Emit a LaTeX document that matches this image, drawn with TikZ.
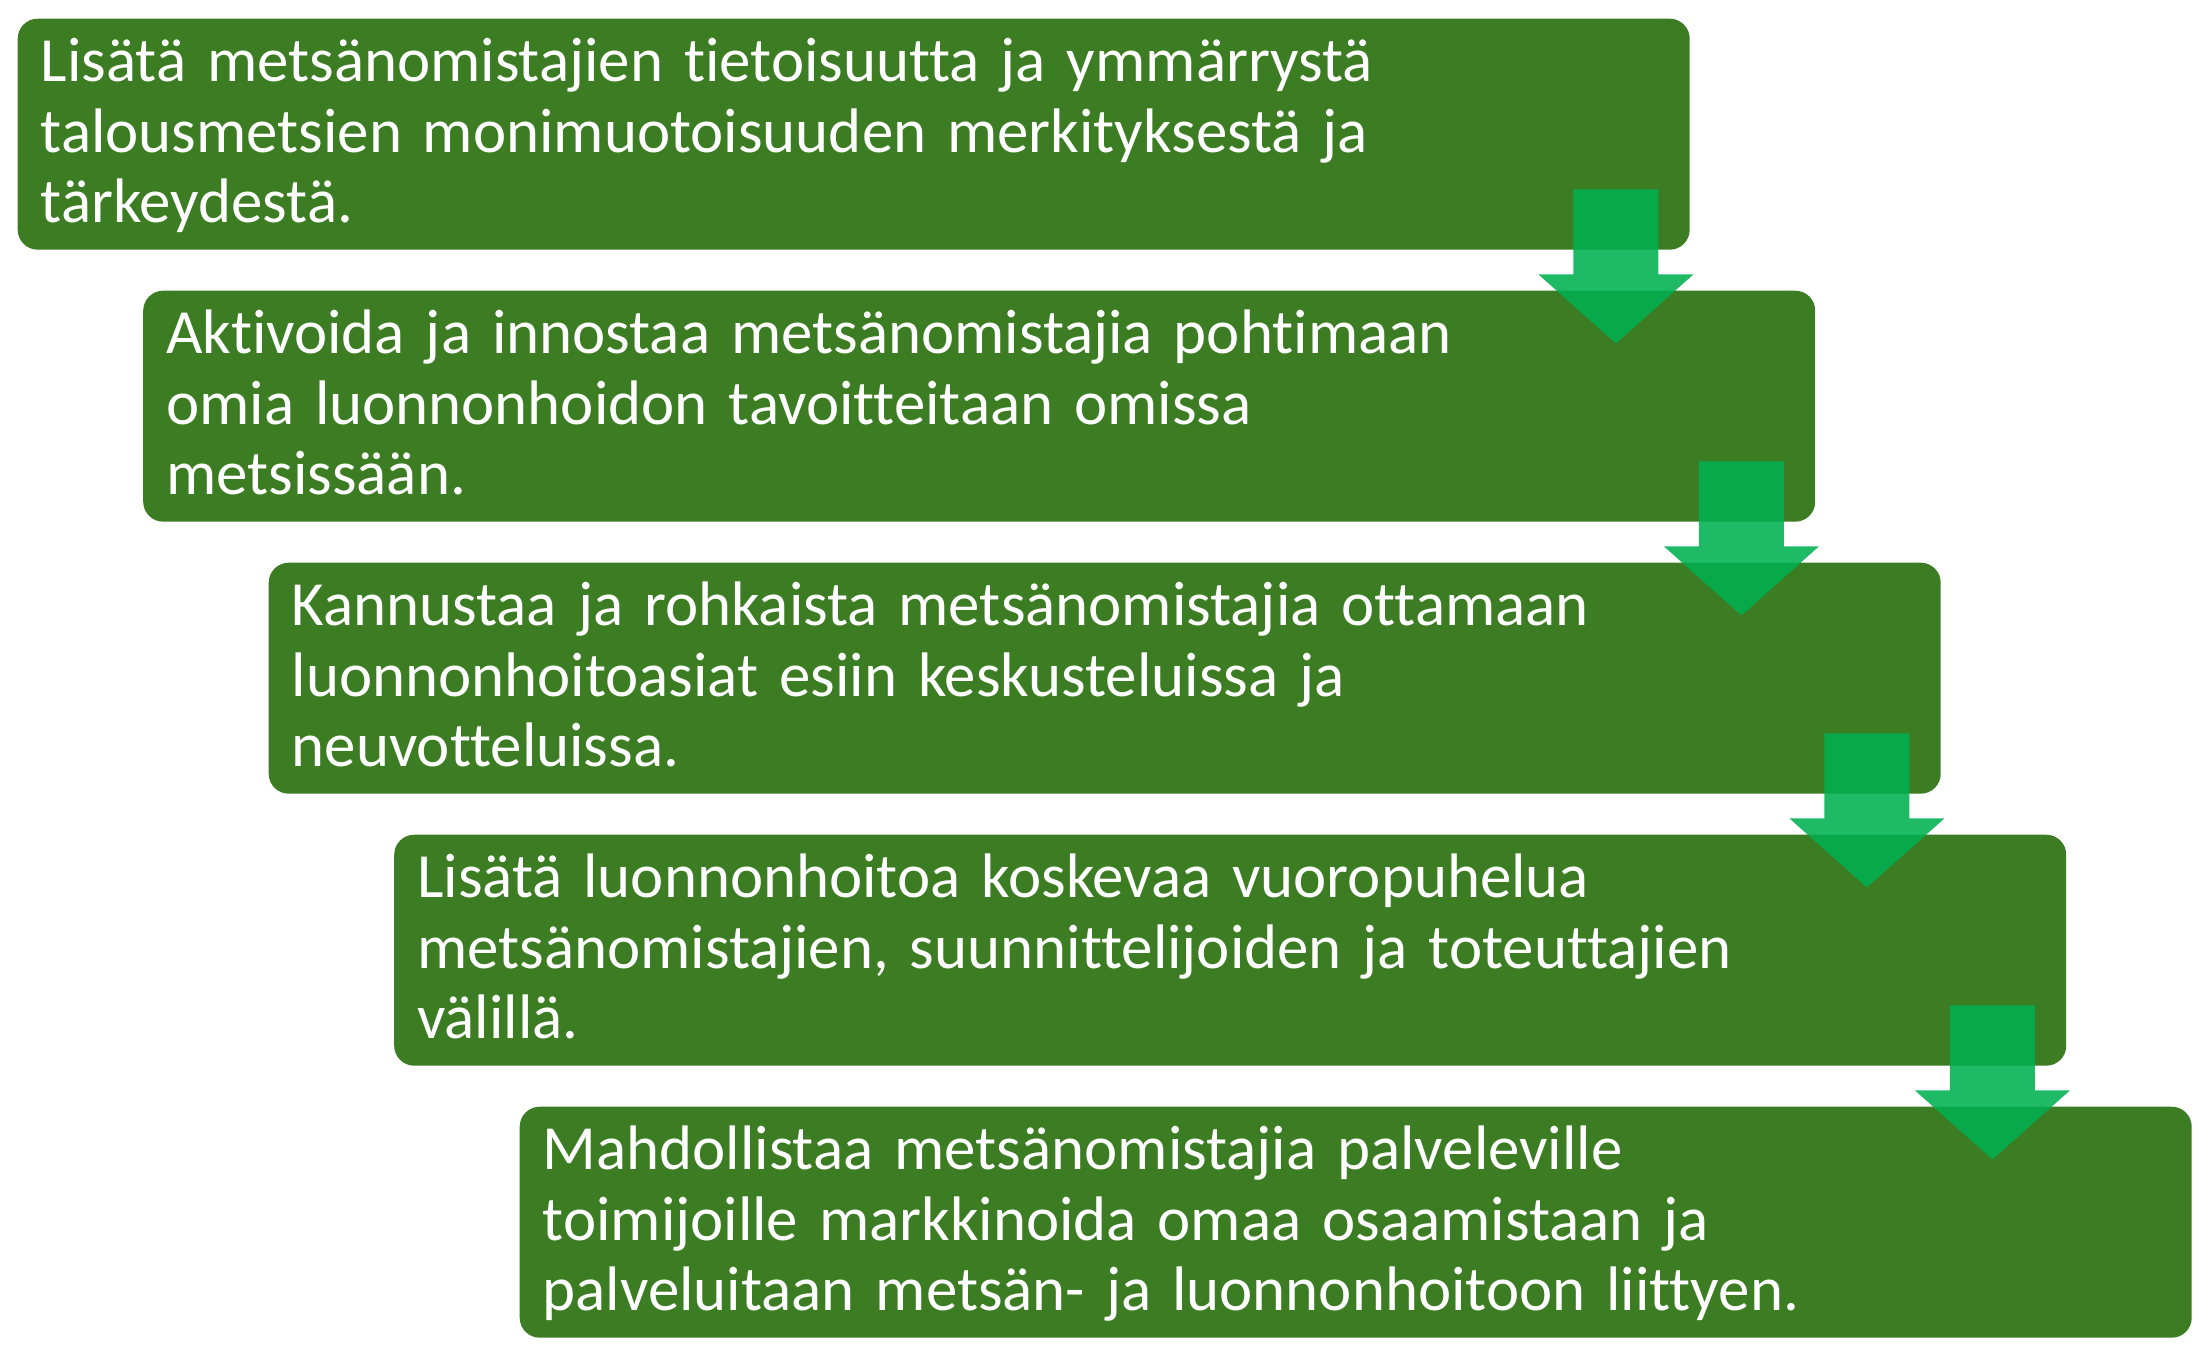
\documentclass[tikz,border=0pt]{standalone}
\usepackage{fontspec}
\setmainfont[Ligatures={NoCommon}]{Carlito}
\usetikzlibrary{calc}
\definecolor{boxgreen}{RGB}{60,125,35}
\definecolor{arrowgreen}{RGB}{0,176,80}
\begin{document}
\begin{tikzpicture}

      \tikzset{goal/.style={fill=boxgreen, rounded corners=0.2cm, text=white, align=left, anchor=north west,
                 text width=16.26cm, inner xsep=0.23cm, inner ysep=0pt, text height=0.63cm, text depth=1.68cm,
                 font=\fontsize{17.9}{20.05}\selectfont},
               drop/.style={fill=arrowgreen, fill opacity=0.88}}
      \useasboundingbox (0,0) rectangle (21.98,-13.66);
%% Goals
      	\node[goal] (g1) at (0.17,-0.18) {Lisätä metsänomistajien tietoisuutta ja ymmärrystä\\ talousmetsien monimuotoisuuden merkityksestä ja\\ tärkeydestä.};
      	\node[goal] (g2) at (1.425,-2.90) {Aktivoida ja innostaa metsänomistajia pohtimaan\\ omia luonnonhoidon tavoitteitaan omissa\\ metsissään.};
    		\node[goal] (g3) at (2.68,-5.62) {Kannustaa ja rohkaista metsänomistajia ottamaan\\ luonnonhoitoasiat esiin keskusteluissa ja\\ neuvotteluissa.};
  	    \node[goal] (g4) at (3.935,-8.34) {Lisätä luonnonhoitoa koskevaa vuoropuhelua\\ metsänomistajien, suunnittelijoiden ja toteuttajien\\ välillä.};
  	    \node[goal] (g5) at (5.19,-11.06) {Mahdollistaa metsänomistajia palveleville\\ toimijoille markkinoida omaa osaamistaan ja\\ palveluitaan metsän- ja luonnonhoitoon liittyen.};
%Arrows
		\path[drop, shift={($(g1.south east)+(-0.745,0)$)}] (-0.425,0.61) -- (0.425,0.61) -- (0.425,-0.24) -- (0.775,-0.24) -- (0,-0.93) -- (-0.775,-0.24) -- (-0.425,-0.24) -- cycle;
		\path[drop, shift={($(g2.south east)+(-0.745,0)$)}] (-0.425,0.61) -- (0.425,0.61) -- (0.425,-0.24) -- (0.775,-0.24) -- (0,-0.93) -- (-0.775,-0.24) -- (-0.425,-0.24) -- cycle;
		\path[drop, shift={($(g3.south east)+(-0.745,0)$)}] (-0.425,0.61) -- (0.425,0.61) -- (0.425,-0.24) -- (0.775,-0.24) -- (0,-0.93) -- (-0.775,-0.24) -- (-0.425,-0.24) -- cycle;
		\path[drop, shift={($(g4.south east)+(-0.745,0)$)}] (-0.425,0.61) -- (0.425,0.61) -- (0.425,-0.24) -- (0.775,-0.24) -- (0,-0.93) -- (-0.775,-0.24) -- (-0.425,-0.24) -- cycle;

	\end{tikzpicture}
\end{document}
